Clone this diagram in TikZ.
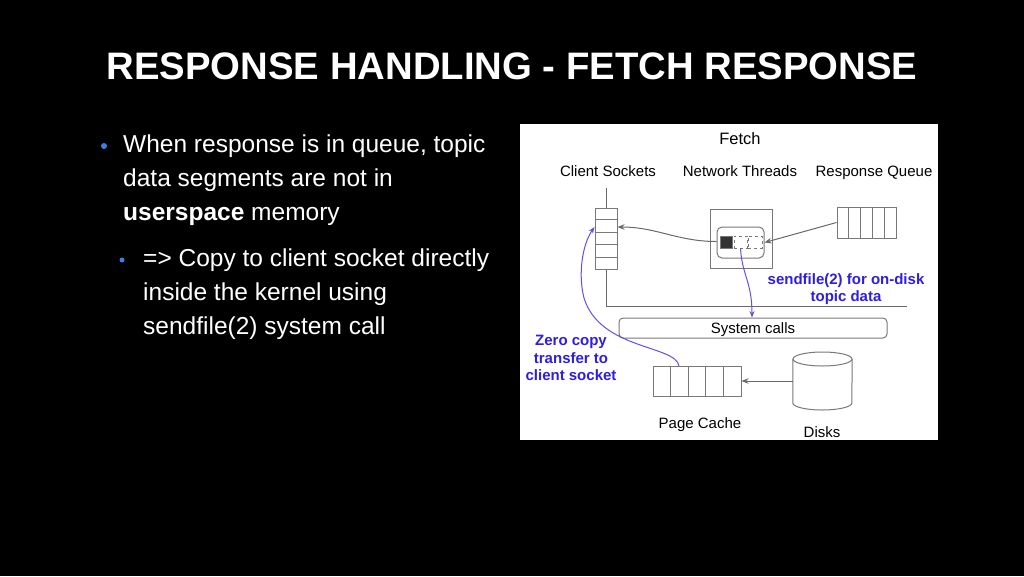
\documentclass[tikz,border=0pt]{standalone}
\usepackage{fontspec}
\setmainfont{Liberation Sans}
\usetikzlibrary{arrows.meta,calc}
\definecolor{bulletblue}{RGB}{58,126,232}
\definecolor{dblue}{RGB}{45,30,225}
\definecolor{cblue}{RGB}{100,80,225}
\definecolor{lgray}{RGB}{105,105,105}
\definecolor{bgray}{RGB}{120,120,120}
\begin{document}
\begin{tikzpicture}[x=1pt,y=-1pt,
  cellbox/.style={draw=bgray, line width=1pt, inner sep=0pt},
  lbl/.style={font=\fontsize{15}{18}\selectfont, text=black, inner sep=0pt},
  blbl/.style={font=\bfseries\fontsize{15}{17.5}\selectfont, text=dblue, align=center, inner sep=0pt},
  garrow/.style={draw=lgray, line width=1pt, -{Stealth[length=7pt,width=5.5pt]}},
  barrow/.style={draw=cblue, line width=1pt, -{Stealth[length=6.5pt,width=5pt]}},
  slidetext/.style={anchor=north west, inner sep=0pt, align=left, text=white, font=\fontsize{24.5}{34}\selectfont}
]
\fill[black] (0,0) rectangle (1024,576);
\useasboundingbox (0,0) rectangle (1024,576);

% title
\node[font=\bfseries\fontsize{38.3}{42}\selectfont, text=white, anchor=base, inner sep=0pt] (title) at (512,79) {RESPONSE HANDLING - FETCH RESPONSE};

% bullets
\node[circle, fill=bulletblue, minimum size=6, inner sep=0pt] (b1) at (104,146) {};
\node[slidetext] (t1) at (123,135) {When response is in queue, topic\\data segments are not in\\\textbf{userspace} memory};
\node[circle, fill=bulletblue, minimum size=5, inner sep=0pt] (b2) at (122,260) {};
\node[slidetext] (t2) at (143,249) {=> Copy to client socket directly\\inside the kernel using\\sendfile(2) system call};

% panel
\node[fill=white, minimum width=418, minimum height=316, inner sep=0pt, anchor=north west] (panel) at (520,124) {};
\node[lbl, font=\fontsize{16.5}{18}\selectfont, anchor=base] (fetch) at (740,144) {Fetch};
\node[lbl, anchor=base] (hcs) at (608,176.5) {Client Sockets};
\node[lbl, anchor=base] (hnt) at (740,176.5) {Network Threads};
\node[lbl, anchor=base] (hrq) at (874,176.5) {Response Queue};

% client socket stack
\node[cellbox, minimum width=22, minimum height=61] (sock) at (606,238.5) {};
\foreach \i in {1,...,4}
  \draw[bgray, line width=1pt] ($(sock.north west)!\i/5!(sock.south west)$) -- ($(sock.north east)!\i/5!(sock.south east)$);
\coordinate (stop) at (606,188);
\coordinate (scorner) at (606,306);
\coordinate (send) at (907,306);
\draw[lgray, line width=1pt] (stop) -- (sock.north);
\draw[lgray, line width=1pt] (sock.south) -- (scorner) -- (send);

% network thread
\node[cellbox, minimum width=62, minimum height=59] (ntouter) at (741,238.5) {};
\node[cellbox, rounded corners=5, minimum width=47, minimum height=31] (ntinner) at (740.5,242.5) {};
\node[fill=black!80, draw=bgray, line width=0.6pt, minimum width=12, minimum height=12, inner sep=0pt] (blk) at (726,242) {};
\node[draw=bgray, dashed, line width=0.8pt, minimum width=13, minimum height=12, inner sep=0pt] (dsh1) at (740.5,242) {};
\node[draw=bgray, dashed, line width=0.8pt, minimum width=14, minimum height=12, inner sep=0pt] (dsh2) at (755,242) {};

% response queue
\node[cellbox, minimum width=59, minimum height=31] (rq) at (866.5,222.5) {};
\foreach \i in {1,...,4}
  \draw[bgray, line width=1pt] ($(rq.north west)!\i/5!(rq.north east)$) -- ($(rq.south west)!\i/5!(rq.south east)$);

\draw[garrow] (rq.west) -- (ntinner.east);
\draw[garrow] ([yshift=1pt]ntinner.west) to[out=180, in=0] ([yshift=11.5pt]sock.east);

% system calls
\node[cellbox, rounded corners=4, minimum width=268, minimum height=20] (sys) at (753,328) {};
\node[lbl, anchor=base] (syst) at (753,333.5) {System calls};

\draw[barrow] (dsh1.south) .. controls (742,275) and (752,282) .. (sys.north -| 752,318);

\node[blbl] (sendf) at (846,289) {sendfile(2) for on-disk\\topic data};

% page cache
\node[cellbox, minimum width=88, minimum height=30] (pc) at (697,381) {};
\foreach \i in {1,...,4}
  \draw[bgray, line width=1pt] ($(pc.north west)!\i/5!(pc.north east)$) -- ($(pc.south west)!\i/5!(pc.south east)$);
\node[lbl, anchor=base] (pcl) at (700,428.5) {Page Cache};

% disks
\node[minimum width=59, minimum height=58, inner sep=0pt] (disks) at (822.5,381) {};
\draw[bgray, line width=1pt, fill=white] (disks.west |- 0,359) -- (disks.west |- 0,403) arc[start angle=180, end angle=0, x radius=29.5, y radius=7] -- (disks.east |- 0,359);
\draw[bgray, line width=1pt, fill=white] (822.5,359) ellipse [x radius=29.5, y radius=7];
\node[lbl, anchor=base] (dl) at (822,437.5) {Disks};

\draw[garrow] (disks.west) -- (pc.east);

% zero copy
\coordinate (zc) at (679,366);
\draw[barrow] (zc) .. controls (676,345) and (600,350) .. (584,298) .. controls (578,275) and (582,245) .. ([yshift=11.5pt]sock.west);
\node[blbl] (zct) at (571,358) {Zero copy\\transfer to\\client socket};
\end{tikzpicture}
\end{document}
